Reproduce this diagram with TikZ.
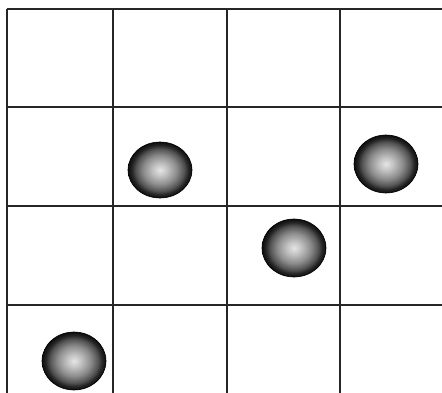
\documentclass[tikz,border=0pt]{standalone}
\usepackage{tikz}
\pgfdeclareradialshading{ballshade}{\pgfpoint{0bp}{0bp}}{%
  color(0bp)=(black!10); color(6bp)=(black!25); color(13bp)=(black!45);
  color(19bp)=(black!68); color(22bp)=(black!85); color(25bp)=(black!95);
  color(50bp)=(black!95)}

\begin{document}
\begin{tikzpicture}[x=1pt, y=-1pt,
  gridline/.style={draw=black!85, line width=1.1pt},
  ball/.style={shading=ballshade, draw=black, line width=0.6pt}]
\useasboundingbox (0,0) rectangle (442,393);
% grid, open to the right and bottom
\foreach \gx in {7,113,227,340}
  \draw[gridline] (\gx,9) -- (\gx,393);
\foreach \gy in {9,107,206,305}
  \draw[gridline] (7,\gy) -- (442,\gy);
% balls
\shade[ball] (160,170) ellipse [x radius=32, y radius=28];
\shade[ball] (386,164) ellipse [x radius=32, y radius=29];
\shade[ball] (294,248) ellipse [x radius=32, y radius=29];
\shade[ball] (74,361) ellipse [x radius=32, y radius=29];
\end{tikzpicture}
\end{document}
